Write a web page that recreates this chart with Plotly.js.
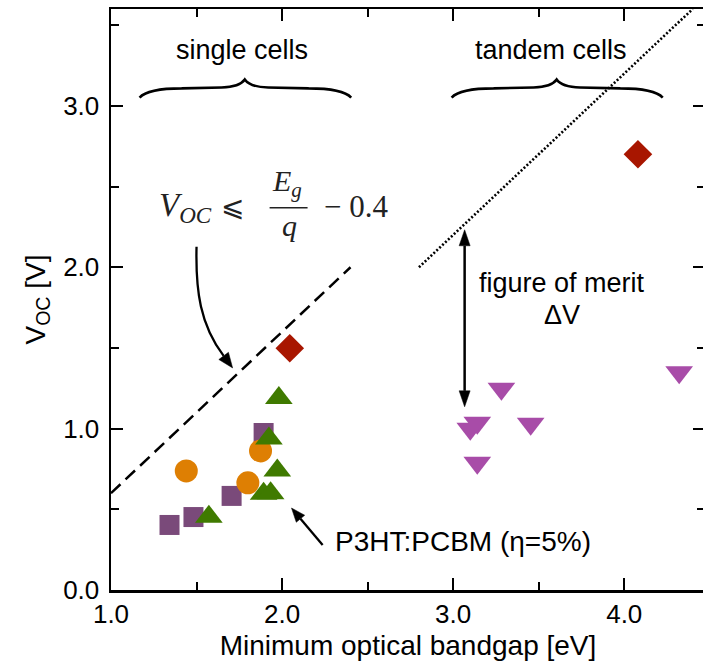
<!DOCTYPE html>
<html>
<head>
<meta charset="utf-8">
<script src="https://cdn.plot.ly/plotly-3.0.1.min.js"></script>
<style>
  html, body { margin: 0; padding: 0; overflow: hidden; background: #fff; }
  #chart { width: 710px; height: 668px; }
</style>
</head>
<body>
<div id="chart"></div>
<script>
// ---- data ----
const squareX = [1.342, 1.482, 1.705, 1.892];
const squareY = [0.403, 0.452, 0.583, 0.973];

const circleX = [1.440, 1.800, 1.874];
const circleY = [0.738, 0.664, 0.862];

const triUpX = [1.572, 1.981, 1.923, 1.972, 1.892, 1.933];
const triUpY = [0.454, 1.190, 0.939, 0.741, 0.596, 0.600];

const diamondX = [2.045, 4.080];
const diamondY = [1.498, 2.700];

const triDownX = [3.282, 3.141, 3.100, 3.453, 3.141, 4.321];
const triDownY = [1.247, 1.037, 0.999, 1.030, 0.789, 1.350];

// limit lines
const singleLimitX = [1.0, 2.4];
const singleLimitY = [0.6, 2.0];
const tandemLimitX = [2.8, 4.4];
const tandemLimitY = [2.0, 3.6];

// axis ticks
const xTickVals = [1, 2, 3, 4];
const xTickText = ['1.0', '2.0', '3.0', '4.0'];
const yTickVals = [0, 1, 2, 3];
const yTickText = ['0.0', '1.0', '2.0', '3.0'];

const SANS = 'Liberation Sans, Arial, Helvetica, sans-serif';
const SERIF = 'Liberation Serif, DejaVu Serif, Times New Roman, serif';

// layout geometry
const W = 710, H = 668;
const M = { l: 111, r: 5, t: 9, b: 78 };
const xRange = [1.0, 4.472];
const yRange = [0, 3.6];
const kx = (W - M.l - M.r) / (xRange[1] - xRange[0]); // px per x unit
const ky = (H - M.t - M.b) / (yRange[1] - yRange[0]); // px per y unit

function mk(x, y, symbol, color, size) {
  return {
    x: x, y: y, type: 'scatter', mode: 'markers', showlegend: false,
    marker: { symbol: symbol, color: color, size: size, line: { width: 0 } },
    hoverinfo: 'x+y'
  };
}

const traces = [
  { x: singleLimitX, y: singleLimitY, type: 'scatter', mode: 'lines', showlegend: false,
    line: { color: '#000', width: 2.5, dash: '13px,7px' } },
  { x: tandemLimitX, y: tandemLimitY, type: 'scatter', mode: 'lines', showlegend: false,
    line: { color: '#000', width: 2.6, dash: '2px,2px' } },
  mk(squareX, squareY, 'square', '#7a4a7a', 20),
  mk(circleX, circleY, 'circle', '#de7f03', 23),
  mk(triUpX, triUpY, 'triangle-up', '#3f7a00', 24),
  mk(diamondX, diamondY, 'diamond', '#a81600', 22),
  mk(triDownX, triDownY, 'triangle-down', '#a84ca8', 24)
];

// brace helper (data coordinates)
function brace(x0, xm, x1, yb, yf, yt) {
  const wl = xm - x0, wr = x1 - xm;
  return 'M' + x0 + ',' + yb +
    ' Q' + (x0 + 0.08 * wl) + ',' + yf + ' ' + (x0 + 0.4 * wl) + ',' + yf +
    ' L' + (xm - 0.22 * wl) + ',' + (yf + 0.006) +
    ' Q' + (xm - 0.05 * wl) + ',' + (yf + 0.008) + ' ' + xm + ',' + yt +
    ' Q' + (xm + 0.05 * wr) + ',' + (yf + 0.008) + ' ' + (xm + 0.22 * wr) + ',' + (yf + 0.006) +
    ' L' + (x1 - 0.4 * wr) + ',' + yf +
    ' Q' + (x1 - 0.08 * wr) + ',' + yf + ' ' + x1 + ',' + yb;
}

// arrow head: tip in data coords, direction (screen px, y down), length & half width in px
function head(xt, yt, dx, dy, len, hw) {
  const n = Math.hypot(dx, dy); dx /= n; dy /= n;
  const bx = -dx * len, by = -dy * len;
  const p1x = bx - dy * hw, p1y = by + dx * hw;
  const p2x = bx + dy * hw, p2y = by - dx * hw;
  const toX = (px) => xt + px / kx;
  const toY = (py) => yt - py / ky;
  return {
    shape: { type: 'path', xref: 'x', yref: 'y',
      path: 'M' + xt + ',' + yt + ' L' + toX(p1x) + ',' + toY(p1y) + ' L' + toX(p2x) + ',' + toY(p2y) + ' Z',
      fillcolor: '#000', line: { color: '#000', width: 0.5 } },
    baseX: toX(bx), baseY: toY(by)
  };
}

const hCurve = head(1.711, 1.376, 0.6, 0.8, 15, 6);
const hP3 = head(2.055, 0.508, -31, -37, 14, 5.5);
const hTop = head(3.067, 2.232, 0, -1, 16, 5.5);
const hBot = head(3.067, 1.135, 0, 1, 16, 5.5);

const shapes = [
  { type: 'path', xref: 'x', yref: 'y', path: brace(1.167, 1.782, 2.404, 3.051, 3.108, 3.163),
    line: { color: '#000', width: 2.6 } },
  { type: 'path', xref: 'x', yref: 'y', path: brace(2.991, 3.605, 4.225, 3.051, 3.108, 3.163),
    line: { color: '#000', width: 2.6 } },
  // curved arrow shaft
  { type: 'path', xref: 'x', yref: 'y',
    path: 'M1.50,2.127 C1.494,1.853 1.521,1.643 ' + hCurve.baseX + ',' + hCurve.baseY,
    line: { color: '#000', width: 2.3 } },
  hCurve.shape,
  // P3HT arrow
  { type: 'line', xref: 'x', yref: 'y', x0: 2.237, y0: 0.279, x1: hP3.baseX, y1: hP3.baseY,
    line: { color: '#000', width: 2.3 } },
  hP3.shape,
  // figure of merit double arrow
  { type: 'line', xref: 'x', yref: 'y', x0: 3.067, y0: hBot.baseY, x1: 3.067, y1: hTop.baseY,
    line: { color: '#000', width: 2.5 } },
  hTop.shape, hBot.shape,
  // fraction bar
  { type: 'rect', xref: 'x', yref: 'y', x0: 1.927, x1: 2.149, y0: 2.3635, y1: 2.3725,
    fillcolor: '#222', line: { width: 0 }, layer: 'above' }
];

const annotations = [
  { x: 1.764, y: 3.348, text: 'single cells', showarrow: false, font: { family: SANS, size: 27, color: '#000' } },
  { x: 3.570, y: 3.348, text: 'tandem cells', showarrow: false, font: { family: SANS, size: 27, color: '#000' } },
  { x: 3.634, y: 1.903, text: 'figure of merit', showarrow: false, font: { family: SANS, size: 27, color: '#000' } },
  { x: 3.634, y: 1.705, text: '\u0394V', showarrow: false, font: { family: SANS, size: 27, color: '#000' } },
  { x: 2.300, y: 0.298, xanchor: 'left', text: 'P3HT:PCBM (\u03b7=5%)', showarrow: false,
    font: { family: SANS, size: 28, color: '#000' } },
  // formula V_OC <= E_g/q - 0.4
  { x: 1.60, y: 2.37, xanchor: 'right', text: '<i>V</i><sub><i>OC</i></sub>', showarrow: false,
    font: { family: SERIF, size: 33, color: '#222' } },
  { x: 1.711, y: 2.374, text: '\u2A7D', showarrow: false,
    font: { family: 'DejaVu Serif, DejaVu Sans, serif', size: 28, color: '#222' } },
  { x: 2.030, y: 2.52, text: '<i>E</i><sub><i>g</i></sub>', showarrow: false,
    font: { family: SERIF, size: 30, color: '#222' } },
  { x: 2.045, y: 2.26, text: '<i>q</i>', showarrow: false,
    font: { family: SERIF, size: 30, color: '#222' } },
  { x: 2.43, y: 2.374, text: '\u2212 0.4', showarrow: false,
    font: { family: SERIF, size: 31, color: '#222' } }
];

const axisCommon = {
  showline: true, linecolor: '#000', linewidth: 2.5, mirror: 'ticks',
  ticks: 'inside', ticklen: 12, tickwidth: 2, tickcolor: '#000',
  showgrid: false, zeroline: false,
  tickfont: { family: SANS, size: 26, color: '#000' },
  minor: { ticks: 'inside', ticklen: 8, tickwidth: 2, tickcolor: '#000', dtick: 0.5, tick0: 0, showgrid: false }
};

const layout = {
  width: W, height: H,
  margin: M,
  paper_bgcolor: '#fff', plot_bgcolor: '#fff',
  showlegend: false,
  xaxis: Object.assign({}, axisCommon, {
    range: xRange, tickmode: 'array', tickvals: xTickVals, ticktext: xTickText,
    ticklabelstandoff: -1,
    title: { text: 'Minimum optical bandgap [eV]', font: { family: SANS, size: 28, color: '#000' }, standoff: 8 }
  }),
  yaxis: Object.assign({}, axisCommon, {
    range: yRange, tickmode: 'array', tickvals: yTickVals, ticktext: yTickText,
    ticklabelstandoff: 4,
    title: { text: 'V<sub>OC</sub> [V]', font: { family: SANS, size: 28, color: '#000' }, standoff: 10 }
  }),
  shapes: shapes,
  annotations: annotations
};

Plotly.newPlot('chart', traces, layout, { displayModeBar: false, staticPlot: true });
</script>
</body>
</html>
